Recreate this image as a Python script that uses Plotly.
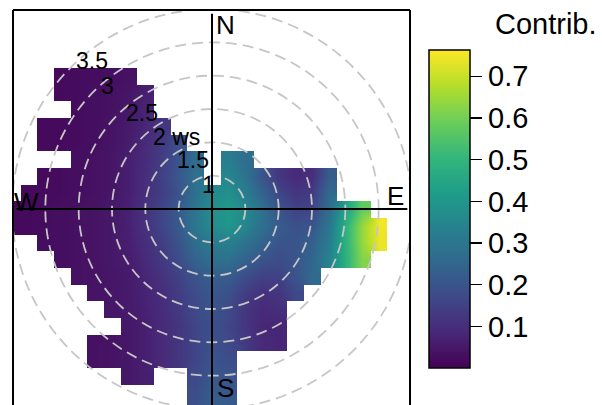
import plotly.graph_objects as go

# ---------------- data ----------------
# Surface of "Contrib." on a Cartesian grid of the polar plot.
# Grid step in radial units (one dashed ring = 0.5 units).
grid_step = 0.25
grid_cols = list(range(-12, 13))      # column index i -> x = i * grid_step
grid_rows = list(range(-12, 13))      # row index j    -> y = j * grid_step

# Each row: row index j, first column index, then values (None = no data)
row_j = [8, 7, 6, 5, 4, 3, 2, 1, 0, -1, -2, -3, -4, -5, -6, -7, -8, -9, -10, -11, -12]
row_first_col = [-9, -9, -8, -10, -10, -8, -10, -11, -12, -12, -10, -9, -8, -7, -6, -5, -7, -7, -5, -1, -1]
row_values = [
    [0.02, 0.025, 0.025, 0.03, 0.035],
    [0.02, 0.025, 0.03, 0.035, 0.045, 0.065],
    [0.025, 0.03, 0.035, 0.05, 0.075],
    [0.02, 0.02, 0.025, 0.03, 0.04, 0.055, 0.08, 0.12],
    [0.02, 0.02, 0.025, 0.03, 0.04, 0.06, 0.09, 0.13, 0.19],
    [0.03, 0.035, 0.045, 0.065, 0.095, 0.14, 0.2, 0.27, None, 0.32, 0.27],
    [0.02, 0.025, 0.03, 0.035, 0.045, 0.065, 0.1, 0.15, 0.21, 0.28, None, 0.35, 0.29, 0.2, 0.12, 0.09, 0.1, 0.22],
    [0.02, 0.02, 0.025, 0.03, 0.035, 0.045, 0.065, 0.1, 0.14, 0.2, 0.28, 0.36, 0.38, 0.32, 0.24, 0.16, 0.12, 0.13, 0.26],
    [0.02, 0.02, 0.025, 0.03, 0.035, 0.04, 0.05, 0.07, 0.11, 0.16, 0.22, 0.3, 0.38, 0.41, 0.36, 0.28, 0.2, 0.15, 0.16, 0.27, 0.43, 0.58],
    [0.02, 0.02, 0.025, 0.03, 0.035, 0.04, 0.05, 0.07, 0.11, 0.16, 0.22, 0.3, 0.37, 0.4, 0.35, 0.28, 0.22, 0.19, 0.2, 0.3, 0.48, 0.64, 0.75],
    [0.025, 0.03, 0.035, 0.04, 0.05, 0.065, 0.1, 0.14, 0.2, 0.27, 0.32, 0.33, 0.29, 0.24, 0.2, 0.2, 0.23, 0.32, 0.48, 0.64, 0.74],
    [0.03, 0.035, 0.04, 0.05, 0.06, 0.09, 0.13, 0.18, 0.24, 0.28, 0.28, 0.24, 0.2, 0.18, 0.2, 0.25, 0.34, 0.48, 0.62],
    [0.035, 0.04, 0.045, 0.055, 0.08, 0.11, 0.15, 0.2, 0.23, 0.22, 0.18, 0.15, 0.15, 0.2, 0.26],
    [0.04, 0.045, 0.055, 0.075, 0.1, 0.14, 0.18, 0.21, 0.19, 0.14, 0.11, 0.12, 0.17],
    [0.045, 0.055, 0.07, 0.095, 0.13, 0.17, 0.2, 0.17, 0.12, 0.09, 0.1],
    [0.05, 0.065, 0.09, 0.12, 0.16, 0.19, 0.16, 0.12, 0.08, 0.08],
    [0.035, 0.04, 0.05, 0.065, 0.09, 0.12, 0.16, 0.19, 0.17, 0.13, 0.09, 0.08],
    [0.035, 0.04, 0.05, 0.065, 0.09, 0.12, 0.16, 0.2, 0.18],
    [0.05, 0.065, None, None, 0.17, 0.21, 0.2],
    [0.18, 0.22, 0.21],
    [0.19, 0.23, 0.22],
]

# Wind-speed rings and their labels
ring_ws = [1, 1.5, 2, 2.5, 3, 3.5]
ring_labels = ["1", "1.5", "2 ws", "2.5", "3", "3.5"]
ws_origin = 0.5   # ws value at the plot centre

# Colour bar
cbar_ticks = [0.1, 0.2, 0.3, 0.4, 0.5, 0.6, 0.7]
c_min, c_max = 0.0, 0.763

# Compass labels
compass = ["N", "E", "S", "W"]

# ---------------- build grid ----------------
x_vals = [i * grid_step for i in grid_cols]
y_vals = [j * grid_step for j in grid_rows]
z = [[None] * len(grid_cols) for _ in grid_rows]
for j, c0, vals in zip(row_j, row_first_col, row_values):
    r = grid_rows.index(j)
    for k, v in enumerate(vals):
        c = grid_cols.index(c0 + k)
        z[r][c] = v

FONT = "Liberation Sans, Arial, Helvetica, sans-serif"

fig = go.Figure()
fig.add_trace(go.Heatmap(
    x=x_vals, y=y_vals, z=z,
    zsmooth="best", colorscale="Viridis", zmin=c_min, zmax=c_max,
    hoverinfo="skip",
    colorbar=dict(
        x=1.048, xanchor="left", xpad=0,
        y=0.496, yanchor="middle", ypad=0,
        len=318, lenmode="pixels", thickness=41,
        outlinewidth=1.5, outlinecolor="black",
        tickvals=cbar_ticks, ticktext=[f"{t:.1f}" for t in cbar_ticks],
        ticks="outside", ticklen=12, tickwidth=1.5, tickcolor="black",
        tickfont=dict(family=FONT, size=29, color="black"),
    ),
))

shapes = []
# dashed rings
for ws in ring_ws:
    r = ws - ws_origin
    shapes.append(dict(type="circle", xref="x", yref="y", x0=-r, x1=r, y0=-r, y1=r,
                       line=dict(color="#c6c6c6", width=1.8, dash="11px,6px"), layer="above"))
# cross hair
arm = 2.93
shapes.append(dict(type="line", xref="x", yref="y", x0=-arm, x1=arm, y0=0, y1=0,
                   line=dict(color="black", width=2), layer="above"))
shapes.append(dict(type="line", xref="x", yref="y", x0=0, x1=0, y0=-3.2, y1=arm,
                   line=dict(color="black", width=2), layer="above"))
# frame (bottom edge falls outside the picture)
for (x0, y0, x1, y1) in [(0, -0.05, 0, 1), (0, 1, 1, 1), (1, 1, 1, -0.05)]:
    shapes.append(dict(type="line", xref="paper", yref="paper", x0=x0, y0=y0, x1=x1, y1=y1,
                       line=dict(color="black", width=2), layer="above"))

annotations = []
# ring labels
label_pos = [(-0.06, 0.36), (-0.285, 0.735), (-0.54, 1.08), (-1.05, 1.44), (-1.575, 1.845), (-1.8, 2.22)]
for (lx, ly), t in zip(label_pos, ring_labels):
    annotations.append(dict(x=lx, y=ly, xref="x", yref="y", text=t, showarrow=False,
                            font=dict(family=FONT, size=23, color="black")))
# compass labels
compass_pos = {"N": (0.2, 2.76), "E": (2.75, 0.2), "S": (0.2, -2.685), "W": (-2.78, 0.1)}
for c in compass:
    cx, cy = compass_pos[c]
    annotations.append(dict(x=cx, y=cy, xref="x", yref="y", text=c, showarrow=False,
                            font=dict(family=FONT, size=26, color="black")))
# colour bar title
annotations.append(dict(x=1.21, y=0.965, xref="paper", yref="paper", text="Contrib.",
                        showarrow=False, xanchor="left", yanchor="middle",
                        font=dict(family=FONT, size=29, color="black")))

fig.update_layout(
    width=602, height=405,
    margin=dict(l=13, r=192, t=10, b=0, autoexpand=False),
    paper_bgcolor="white", plot_bgcolor="white",
    xaxis=dict(range=[-2.985, 2.97], visible=False, showgrid=False, zeroline=False),
    yaxis=dict(range=[-2.94, 2.985], visible=False, showgrid=False, zeroline=False),
    shapes=shapes, annotations=annotations,
    showlegend=False,
)

fig.write_html("out.html",
               config={"displayModeBar": False, "staticPlot": True},
               post_script="document.body.style.margin='0';document.body.style.overflow='hidden';")
